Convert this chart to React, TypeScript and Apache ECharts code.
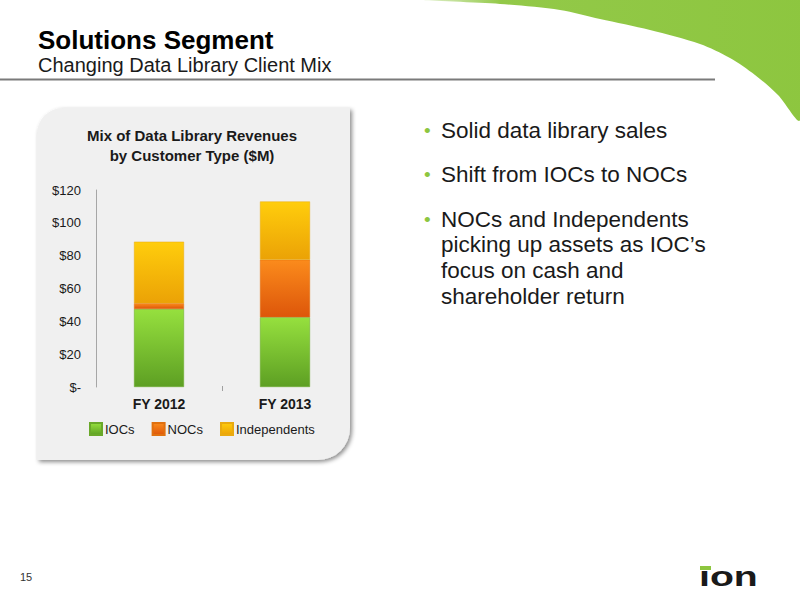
import React, { useEffect, useRef } from "react";
import * as echarts from "echarts";

const categories = ["FY 2012", "FY 2013"];
const iocs = [47.5, 42.5];
const nocs = [3.5, 35];
const independents = [37.5, 35.5];
const yTicks = [0, 20, 40, 60, 80, 100, 120];
const bullets = [
  ["Solid data library sales"],
  ["Shift from IOCs to NOCs"],
  ["NOCs and Independents", "picking up assets as IOC\u2019s", "focus on cash and", "shareholder return"],
];

const FONT = "Liberation Sans, Arial, sans-serif";

function grad(top: string, bottom: string) {
  return new echarts.graphic.LinearGradient(0, 0, 0, 1, [
    { offset: 0, color: top },
    { offset: 1, color: bottom },
  ]);
}

export default function App() {
  const ref = useRef<HTMLDivElement>(null);
  useEffect(() => {
    if (!ref.current) return;
    const chart = echarts.init(ref.current, null, { renderer: "svg" });

    const bulletEls: any[] = [];
    const lineStarts = [130, 174, 219];
    bullets.forEach((lines, i) => {
      bulletEls.push({
        type: "text",
        x: 424,
        y: lineStarts[i],
        style: { text: "\u2022", font: `19px ${FONT}`, fill: "#8dc63f", verticalAlign: "middle" },
      });
      lines.forEach((t, j) => {
        bulletEls.push({
          type: "text",
          x: 441,
          y: lineStarts[i] + j * 25.7,
          style: { text: t, font: `22.5px ${FONT}`, fill: "#1a1a1a", verticalAlign: "middle" },
        });
      });
    });

    const option: any = {
      animation: false,
      backgroundColor: "#ffffff",
      textStyle: { fontFamily: FONT },
      grid: { left: 96, top: 190, width: 252, height: 197, containLabel: false },
      legend: {
        left: 84,
        top: 417,
        itemWidth: 12,
        itemHeight: 12,
        itemGap: 17,
        icon: "rect",
        textStyle: { fontSize: 13, color: "#1a1a1a", padding: [0, 0, 0, -2] },
        data: ["IOCs", "NOCs", "Independents"],
      },
      xAxis: {
        type: "category",
        data: categories,
        axisLine: { show: false },
        axisTick: { show: false },
        axisLabel: { fontSize: 14, fontWeight: "bold", color: "#1a1a1a", margin: 10 },
      },
      yAxis: {
        type: "value",
        min: 0,
        max: 120,
        interval: 20,
        axisLine: { show: true, lineStyle: { color: "#a6a6a6", width: 1 } },
        axisTick: { show: false },
        splitLine: { show: false },
        axisLabel: {
          fontSize: 13,
          color: "#1a1a1a",
          margin: 15,
          formatter: (v: number) => (yTicks.includes(v) ? (v === 0 ? "$-" : "$" + v) : ""),
        },
      },
      series: [
        {
          name: "IOCs",
          type: "bar",
          stack: "t",
          barWidth: 50,
          data: iocs,
          itemStyle: { color: grad("#96e03e", "#5d9f23"), borderColor: "#6aa82a", borderWidth: 0.5 },
        },
        {
          name: "NOCs",
          type: "bar",
          stack: "t",
          barWidth: 50,
          data: nocs,
          itemStyle: { color: grad("#fb8b1c", "#dd560a"), borderColor: "#e0700f", borderWidth: 0.5 },
        },
        {
          name: "Independents",
          type: "bar",
          stack: "t",
          barWidth: 50,
          data: independents,
          itemStyle: { color: grad("#ffcd0c", "#eba206"), borderColor: "#e9aa10", borderWidth: 0.5 },
        },
      ],
      graphic: [
        {
          type: "polygon",
          z: -10,
          shape: {
            points: [
              [425, 0], [500, 4], [560, 10], [600, 19], [650, 30], [700, 44],
              [730, 58], [755, 75], [778, 95], [800, 120], [800, 0],
            ],
            smooth: 0.3,
          },
          style: {
            fill: new echarts.graphic.LinearGradient(0, 0, 1, 0, [
              { offset: 0, color: "rgba(141,198,63,0.25)" },
              { offset: 0.2, color: "rgba(141,198,63,0.95)" },
              { offset: 1, color: "#8dc63f" },
            ]),
          },
        },
        {
          type: "text",
          x: 38,
          y: 40,
          style: { text: "Solutions Segment", font: `bold 26px ${FONT}`, fill: "#000000", verticalAlign: "middle" },
        },
        {
          type: "text",
          x: 38,
          y: 65,
          style: { text: "Changing Data Library Client Mix", font: `20px ${FONT}`, fill: "#1a1a1a", verticalAlign: "middle" },
        },
        {
          type: "line",
          shape: { x1: 0, y1: 79.5, x2: 715, y2: 79.5 },
          style: { stroke: "#7a7a7a", lineWidth: 2 },
        },
        {
          type: "rect",
          z: -5,
          shape: { x: 37, y: 108, width: 313, height: 352, r: [26, 0, 32, 0] },
          style: {
            fill: "#f0f0f0",
            shadowBlur: 4,
            shadowOffsetX: 2,
            shadowOffsetY: 2,
            shadowColor: "rgba(0,0,0,0.45)",
          },
        },
        {
          type: "line",
          shape: { x1: 222.5, y1: 386, x2: 222.5, y2: 391 },
          style: { stroke: "#a0a0a0", lineWidth: 1 },
        },
        {
          type: "text",
          x: 192,
          y: 145,
          style: {
            text: "Mix of Data Library Revenues\nby Customer Type ($M)",
            font: `bold 15px ${FONT}`,
            fill: "#1a1a1a",
            align: "center",
            verticalAlign: "middle",
            lineHeight: 20,
          },
        },
        ...bulletEls,
        {
          type: "text",
          x: 20,
          y: 577,
          style: { text: "15", font: `11px ${FONT}`, fill: "#333333", verticalAlign: "middle" },
        },
        {
          type: "text",
          x: 699,
          y: 576,
          scaleX: 1.4,
          originX: 0,
          originY: 0,
          style: { text: "\u0131on", font: `bold 28px ${FONT}`, fill: "#1a1a1a", verticalAlign: "middle" },
        },
        {
          type: "rect",
          shape: { x: 700, y: 566, width: 11, height: 4 },
          style: { fill: "#8dc63f" },
        },
      ],
    };
    chart.setOption(option);
    return () => chart.dispose();
  }, []);
  return (
    <div
      ref={ref}
      style={{ position: "fixed", left: 0, top: 0, width: 800, height: 600 }}
    />
  );
}
